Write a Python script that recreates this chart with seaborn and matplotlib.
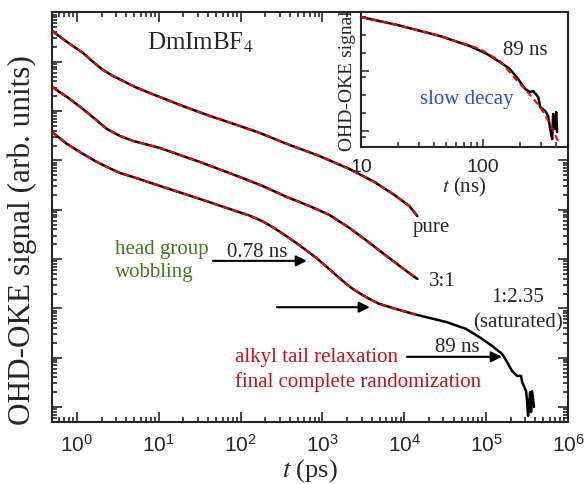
import numpy as np
import pandas as pd
import matplotlib
matplotlib.use("Agg")
import matplotlib.pyplot as plt
import matplotlib.ticker as mticker
import seaborn as sns

# ---------------- data ----------------
# main panel: time in ps, OHD-OKE signal in arbitrary units
t_pure = [0.495, 0.755, 1.18, 1.57, 2.07, 2.75, 3.64, 5.10, 7.14, 11.8, 19.6, 41.9, 97.3,
          171, 396, 919, 2134, 4305, 7551, 11510, 14420]
s_pure = [4.24e7, 2.53e7, 1.52e7, 9.96e6, 6.85e6, 5.18e6, 4.10e6, 3.10e6, 2.45e6, 1.77e6,
          1.27e6, 8.00e5, 5.01e5, 3.61e5, 2.06e5, 1.23e5, 6.72e4, 3.66e4, 2.00e4, 1.19e4,
          7.48e3]

t_31 = [0.495, 0.755, 1.18, 1.66, 2.32, 3.34, 4.82, 10.3, 31.6, 97.3, 185, 364, 694, 1216,
        2134, 3251, 6026, 10570, 14420]
s_31 = [3.10e6, 1.94e6, 1.11e6, 6.95e5, 4.35e5, 3.14e5, 2.49e5, 1.79e5, 9.33e4, 4.63e4,
        3.04e4, 1.82e4, 1.19e4, 7.85e3, 4.28e3, 2.56e3, 1.16e3, 574, 395]

t_sat = [0.495, 0.755, 1.18, 1.66, 2.32, 3.34, 4.82, 10.3, 31.6, 74.2, 129, 185, 260, 364,
         524, 845, 1216, 1610, 2258, 3076, 3963, 4955, 6561, 8690, 14420, 32510, 57020,
         82220, 118300, 156700, 180300, 207500, 238800, 267300, 274800, 307600, 316200,
         325100, 344400, 354000, 363900, 384600]
s_sat = [3.78e5, 2.16e5, 1.36e5, 9.77e4, 7.38e4, 5.57e4, 4.62e4, 3.04e4, 1.66e4, 1.03e4,
         7.60e3, 5.85e3, 4.20e3, 2.90e3, 1.90e3, 1.05e3, 622, 410, 259, 187, 148, 123,
         107, 92.9, 73.4, 53.0, 38.2, 26.3, 17.3, 11.9, 8.13, 5.37, 4.27, 4.27, 3.24,
         2.09, 1.32, 0.66, 2.0, 0.79, 2.09, 1.0]
n_fit_sat = 25   # fit for the saturated sample drawn up to 14.4 ns

# inset: time in ns, signal in arbitrary units
t_in = [10.0, 19.8, 44.3, 78.0, 107.8, 137.5, 166.2, 193.9, 221.7, 243.6, 257.7, 283.6,
        294.4, 323.6, 342.3, 355.5, 369.2, 376.2, 390.5, 397.9, 405.5]
s_in = [7.94, 5.85, 3.83, 2.61, 1.92, 1.41, 1.08, 0.736, 0.501, 0.447, 0.464, 0.369,
        0.251, 0.215, 0.178, 0.108, 0.0736, 0.192, 0.108, 0.207, 0.0962]
t_in_fit = [10.0, 19.8, 44.3, 94.5, 137.5, 176.4, 243.6, 294.4, 355.5, 412]
s_in_fit = [7.94, 5.85, 3.83, 2.33, 1.47, 0.825, 0.398, 0.251, 0.131, 0.068]

main_xticks = [1e0, 1e1, 1e2, 1e3, 1e4, 1e5, 1e6]
inset_xticks = [10, 100]

# ---------------- style ----------------
sns.set_style("ticks")
plt.rcParams["font.family"] = ["Liberation Serif", "DejaVu Serif"]
plt.rcParams["mathtext.fontset"] = "stix"
plt.rcParams["axes.linewidth"] = 1.5

GREEN = "#467a1e"
RED_T = "#c8101a"
BLUE = "#2a4fd6"

fig = plt.figure(figsize=(5.85, 4.85), dpi=100)
ax = fig.add_axes([52 / 585, 62 / 485, 516 / 585, 410 / 485])

def draw(axis, t, s, fit_t, fit_s):
    d = pd.DataFrame({"t": t, "s": s})
    f = pd.DataFrame({"t": fit_t, "s": fit_s})
    sns.lineplot(data=d, x="t", y="s", ax=axis, color="black", lw=1.8,
                 estimator=None, sort=False, zorder=3)
    sns.lineplot(data=f, x="t", y="s", ax=axis, color="red", lw=1.5,
                 estimator=None, sort=False, zorder=4, dashes=False,
                 linestyle=(0, (3, 2)))

draw(ax, t_pure, s_pure, t_pure, s_pure)
draw(ax, t_31, s_31, t_31, s_31)
draw(ax, t_sat, s_sat, t_sat[:n_fit_sat], s_sat[:n_fit_sat])

ax.set_xscale("log")
ax.set_yscale("log")
ax.set_xlim(0.495, 1e6)
ax.set_ylim(10 ** -0.304, 10 ** 8.01)
ax.xaxis.set_major_locator(mticker.FixedLocator(main_xticks))
ax.xaxis.set_minor_locator(mticker.LogLocator(base=10, subs=np.arange(2, 10), numticks=30))
ax.yaxis.set_major_locator(mticker.LogLocator(base=10, numticks=30))
ax.yaxis.set_minor_locator(mticker.LogLocator(base=10, subs=np.arange(2, 10), numticks=30))
ax.xaxis.set_major_formatter(mticker.LogFormatterSciNotation())
ax.yaxis.set_major_formatter(mticker.NullFormatter())
ax.tick_params(which="both", direction="in", top=True, right=True, width=1.2)
ax.tick_params(which="major", length=7)
ax.tick_params(which="minor", length=3.5)
ax.tick_params(axis="x", which="major", labelsize=15, pad=8, labelfontfamily="Liberation Sans")
ax.set_xlabel("$t$ (ps)", fontsize=19)
ax.xaxis.set_label_coords(0.5, -0.083)
ax.set_ylabel("OHD-OKE signal (arb. units)", fontsize=22.5)
ax.yaxis.set_label_coords(-0.03, 0.446)

# annotations
ax.text(0.287, 0.927, "DmImBF$_4$", transform=ax.transAxes, fontsize=18,
        ha="center", va="center")
ax.text(0.122, 0.422, "head group", transform=ax.transAxes, fontsize=15,
        color=GREEN, ha="left", va="center")
ax.text(0.122, 0.366, "wobbling", transform=ax.transAxes, fontsize=15,
        color=GREEN, ha="left", va="center")
ax.text(0.397, 0.417, "0.78 ns", transform=ax.transAxes, fontsize=15,
        ha="center", va="center")
ax.text(0.736, 0.476, "pure", transform=ax.transAxes, fontsize=15, ha="center", va="center")
ax.text(0.756, 0.346, "3:1", transform=ax.transAxes, fontsize=15, ha="center", va="center")
ax.text(0.903, 0.305, "1:2.35", transform=ax.transAxes, fontsize=15, ha="center", va="center")
ax.text(0.903, 0.244, "(saturated)", transform=ax.transAxes, fontsize=15,
        ha="center", va="center")
ax.text(0.785, 0.185, "89 ns", transform=ax.transAxes, fontsize=15, ha="center", va="center")
ax.text(0.355, 0.159, "alkyl tail relaxation", transform=ax.transAxes, fontsize=15,
        color=RED_T, ha="left", va="center")
ax.text(0.355, 0.100, "final complete randomization", transform=ax.transAxes, fontsize=15,
        color=RED_T, ha="left", va="center")

arrow = dict(arrowstyle="-|>", color="black", lw=1.5, mutation_scale=16, shrinkA=0, shrinkB=0)
for x0, x1, y in [(0.312, 0.494, 0.393), (0.436, 0.616, 0.280), (0.688, 0.872, 0.159)]:
    ax.annotate("", xy=(x1, y), xytext=(x0, y), xycoords="axes fraction",
                textcoords="axes fraction", arrowprops=arrow)

# ---------------- inset ----------------
axi = fig.add_axes([361 / 585, 337 / 485, 207 / 585, 135 / 485])
axi.set_facecolor("white")
draw(axi, t_in, s_in, t_in_fit, s_in_fit)
axi.set_xscale("log")
axi.set_yscale("log")
axi.set_xlim(10, 10 ** 2.697)
axi.set_ylim(10 ** -1.267, 10 ** 0.983)
axi.xaxis.set_major_locator(mticker.FixedLocator(inset_xticks))
axi.xaxis.set_major_formatter(mticker.FuncFormatter(lambda v, p: f"{v:g}"))
axi.xaxis.set_minor_locator(mticker.LogLocator(base=10, subs=np.arange(2, 10), numticks=30))
axi.xaxis.set_minor_formatter(mticker.NullFormatter())
axi.yaxis.set_major_locator(mticker.LogLocator(base=10, numticks=30))
axi.yaxis.set_minor_locator(mticker.LogLocator(base=10, subs=(2, 4, 8), numticks=30))
axi.yaxis.set_major_formatter(mticker.NullFormatter())
axi.yaxis.set_minor_formatter(mticker.NullFormatter())
axi.tick_params(which="both", direction="in", width=1.1)
axi.tick_params(which="major", length=6)
axi.tick_params(which="minor", length=3.5)
axi.tick_params(axis="x", which="major", labelsize=14, pad=8, labelfontfamily="Liberation Sans")
axi.set_xlabel("$t$ (ns)", fontsize=15, labelpad=0)
axi.set_ylabel("OHD-OKE signal", fontsize=14, labelpad=0)
axi.text(0.792, 0.719, "89 ns", transform=axi.transAxes, fontsize=15, ha="center", va="center")
axi.text(0.512, 0.356, "slow decay", transform=axi.transAxes, fontsize=15, color=BLUE,
         ha="center", va="center")

fig.savefig("out.png", dpi=100)
